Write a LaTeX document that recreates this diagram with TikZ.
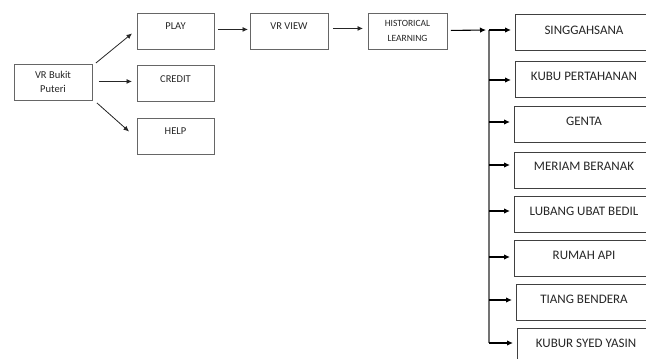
\documentclass[tikz,border=0pt]{standalone}
\usepackage{fontspec}
\setmainfont{Carlito}
\usetikzlibrary{arrows.meta,calc}
\begin{document}
\begin{tikzpicture}[x=1pt,y=-1pt,
  sbox/.style={draw=black!60,line width=0.9pt,rectangle,inner sep=0pt,anchor=north west,minimum width=#1,minimum height=36pt},
  bbox/.style={draw=black!75,line width=1.1pt,rectangle,inner sep=0pt,anchor=north west,minimum width=140pt,minimum height=36pt},
  stxt/.style={font=\fontsize{10.5}{14}\selectfont,align=center,inner sep=0pt,text=black!85},
  btxt/.style={font=\fontsize{13}{15}\selectfont,inner sep=0pt,text=black!85},
  arr/.style={draw=black!85,line width=0.8pt,-{Latex[length=5.5pt,width=5pt]}},
  barr/.style={draw=black,line width=1.1pt,-{Latex[length=6pt,width=5.5pt]}},
  tline/.style={draw=black!55,line width=1.2pt}]
\useasboundingbox (0,0) rectangle (646,359);
\clip (0,0) rectangle (646,359);
% left boxes
\node[sbox=78pt] (vr) at (14,64) {};
\node[stxt] (vrt) at (53,82) {VR Bukit\\Puteri};
\node[sbox=77pt] (play) at (137,13) {};
\node[stxt] (playt) at (175.5,26) {PLAY};
\node[sbox=77pt] (credit) at (137,65) {};
\node[stxt] (creditt) at (175.5,79) {CREDIT};
\node[sbox=77pt] (help) at (137,118) {};
\node[stxt] (helpt) at (175.5,131) {HELP};
\node[sbox=78pt] (vrview) at (250,13) {};
\node[stxt] (vrviewt) at (289,26) {VR VIEW};
\node[sbox=79pt] (hist) at (368,13) {};
\node[stxt,font=\fontsize{9.5}{15}\selectfont] (histt) at (407.5,31) {HISTORICAL\\LEARNING};
% right boxes
\node[bbox] (b1) at (515,14) {};
\node[btxt] (b1t) at (584,30) {SINGGAHSANA};
\node[bbox] (b2) at (515,61) {};
\node[btxt] (b2t) at (584,76) {KUBU PERTAHANAN};
\node[bbox] (b3) at (514,106) {};
\node[btxt] (b3t) at (584,121) {GENTA};
\node[bbox] (b4) at (514,152) {};
\node[btxt] (b4t) at (584,166) {MERIAM BERANAK};
\node[bbox] (b5) at (514,196) {};
\node[btxt] (b5t) at (584,211) {LUBANG UBAT BEDIL};
\node[bbox] (b6) at (514,240) {};
\node[btxt] (b6t) at (584,255) {RUMAH API};
\node[bbox] (b7) at (516,284) {};
\node[btxt] (b7t) at (584,299) {TIANG BENDERA};
\node[bbox] (b8) at (517,328) {};
\node[btxt] (b8t) at (586,343) {KUBUR SYED YASIN};
% connectors left
\draw[arr] ($(vr.north east)+(3,-1)$) -- ($(play.west)+(-5,2)$);
\draw[arr] ($(vr.east)+(6,-1)$) -- ($(credit.west)+(-5,-2)$);
\draw[arr] ($(vr.south east)+(4,2)$) -- ($(help.west)+(-8,-5)$);
\draw[arr] ($(play.east)+(3,-2)$) -- ($(vrview.west)+(-2,-2)$);
\draw[arr] ($(vrview.east)+(4,-3)$) -- ($(hist.west)+(-5,-3)$);
% trunk
\coordinate (tk) at (489,30);
\coordinate (tkend) at (489,343);
\draw[barr] ($(hist.east)+(3,-1)$) -- ($(tk)+(-3,0)$);
\draw[tline] (tk) -- (tkend);
\foreach \b/\y in {b1/30,b2/80,b3/122,b4/165,b5/211,b6/257,b7/300,b8/343}{
  \draw[barr,shorten >=4pt] (tk |- 0,\y) -- (\b.west |- 0,\y);
}
\end{tikzpicture}
\end{document}
